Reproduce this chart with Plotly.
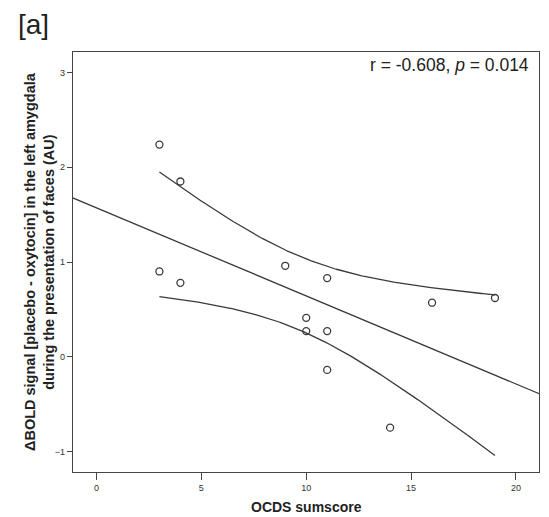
import numpy as np
import plotly.graph_objects as go

# OCDS sumscore vs. amygdala BOLD difference (placebo - oxytocin)
ocds_sumscore = [3, 4, 3, 4, 9, 11, 10, 10, 11, 11, 14, 16, 19]
delta_bold = [2.24, 1.85, 0.90, 0.78, 0.96, 0.83, 0.41, 0.27, 0.27, -0.14, -0.75, 0.57, 0.62]

x_ticks = [0, 5, 10, 15, 20]
y_ticks = [-1, 0, 1, 2, 3]

stat_label = "r = -0.608, <i>p</i> = 0.014"
panel_label = "[a]"
x_title = "OCDS sumscore"
y_title_lines = ["ΔBOLD signal [placebo - oxytocin] in the left amygdala",
                 "during the presentation of faces (AU)"]

T_CRIT_95_DF11 = 2.201  # two-sided 95% t quantile, 11 degrees of freedom

x = np.asarray(ocds_sumscore, dtype=float)
y = np.asarray(delta_bold, dtype=float)
n = len(x)

# Ordinary least squares fit
slope, intercept = np.polyfit(x, y, 1)
resid = y - (intercept + slope * x)
s = np.sqrt(np.sum(resid ** 2) / (n - 2))
sxx = np.sum((x - x.mean()) ** 2)

# Fit line spans the whole axis (clipped by the plot area)
x_line = np.array([-3.0, 23.0])
y_line = intercept + slope * x_line

# 95% confidence band for the mean over the observed range
x_band = np.linspace(x.min(), x.max(), 200)
y_fit = intercept + slope * x_band
half = T_CRIT_95_DF11 * s * np.sqrt(1.0 / n + (x_band - x.mean()) ** 2 / sxx)

ink = "#3a3a3a"
line_style = dict(color=ink, width=1.3)
font_family = "Liberation Sans, Arial, sans-serif"

fig = go.Figure()
fig.add_trace(go.Scatter(x=x_line, y=y_line, mode="lines", line=line_style,
                         hoverinfo="skip", showlegend=False))
fig.add_trace(go.Scatter(x=x_band, y=y_fit + half, mode="lines", line=line_style,
                         hoverinfo="skip", showlegend=False))
fig.add_trace(go.Scatter(x=x_band, y=y_fit - half, mode="lines", line=line_style,
                         hoverinfo="skip", showlegend=False))
fig.add_trace(go.Scatter(x=x, y=y, mode="markers",
                         marker=dict(symbol="circle-open", size=7,
                                     line=dict(color=ink, width=1.3), color=ink),
                         showlegend=False))

axis_common = dict(
    showgrid=False, zeroline=False, showline=True, mirror=True,
    linecolor="#444444", linewidth=1.3,
    ticks="outside", tickcolor="#444444", tickwidth=1.3,
    tickfont=dict(family=font_family, size=9, color="#333333"),
)

fig.update_xaxes(range=[-1.12, 21.1], tickvals=x_ticks, ticklen=7, **axis_common)
fig.update_yaxes(range=[-1.218, 3.218], tickvals=y_ticks, ticklen=5, **axis_common)

fig.add_annotation(text=stat_label, xref="paper", yref="paper", x=0.982, y=0.969,
                   xanchor="right", yanchor="middle", showarrow=False,
                   font=dict(family=font_family, size=17.5, color="#222222"))

fig.add_annotation(text=panel_label, xref="paper", yref="paper",
                   x=-57 / 466, y=1 + 28 / 420, xanchor="left", yanchor="middle",
                   showarrow=False,
                   font=dict(family=font_family, size=28, color="#222222"))

fig.add_annotation(text="<b>" + x_title + "</b>", xref="paper", yref="paper",
                   x=0.5, y=-35 / 420, xanchor="center", yanchor="middle",
                   showarrow=False,
                   font=dict(family=font_family, size=14, color="#222222"))

fig.add_annotation(text="<b>" + "<br>".join(y_title_lines) + "</b>", xref="paper", yref="paper",
                   x=-34 / 466, y=0.5, xanchor="center", yanchor="middle",
                   textangle=-90, showarrow=False,
                   font=dict(family=font_family, size=14.5, color="#222222"))

fig.update_layout(
    width=549, height=517,
    margin=dict(l=73, r=10, t=52, b=45),
    paper_bgcolor="white", plot_bgcolor="white",
    showlegend=False,
)

fig.write_html("out.html")
